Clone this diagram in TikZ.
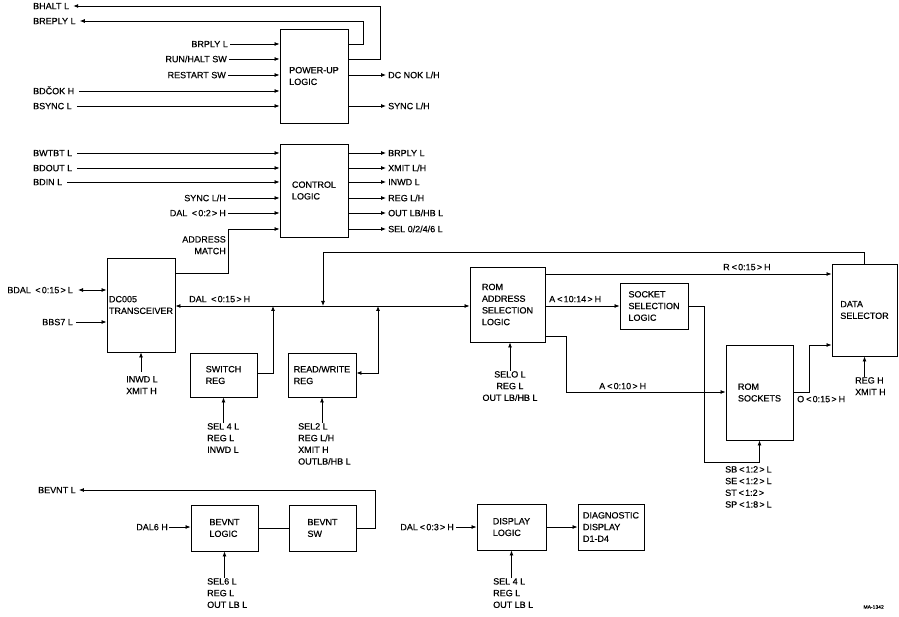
\documentclass[tikz,border=0pt]{standalone}
\usepackage{fontspec}
\setmainfont{Liberation Sans}
\newfontfamily\dfont{Liberation Sans}[FakeBold=0.4]
\newcommand\LA{\kern2pt<\kern1.2pt}
\newcommand\RA{\kern1.2pt>\kern2pt}
\usetikzlibrary{arrows.meta}
\begin{document}
\begin{tikzpicture}[x=1pt,y=-1pt,
 every node/.style={font=\dfont\fontsize{9}{11.7}\selectfont},
 box/.style={draw,line width=0.9pt,inner sep=0pt,align=left},
 lab/.style={inner sep=0pt,text height=6.4pt,text depth=0pt},
 mlab/.style={inner sep=0pt,align=left},
 ln/.style={line width=0.8pt},
 arr/.style={ln,-{Latex[length=5pt,width=4pt]}},
 darr/.style={ln,{Latex[length=5pt,width=4pt]}-{Latex[length=5pt,width=4pt]}}]
\useasboundingbox (0,0) rectangle (899,617);
\fill[white] (0,0) rectangle (899,617);

% boxes
\node[box,minimum width=68pt,minimum height=94pt] (pu) at (314,76) {POWER-UP\\LOGIC};
\node[box,minimum width=68pt,minimum height=93pt] (cl) at (314,190.5) {CONTROL\\LOGIC};
\node[box,minimum width=68pt,minimum height=94pt] (dc) at (141,305) {DC005\\TRANSCEIVER};
\node[box,minimum width=67pt,minimum height=44pt] (sw) at (223.5,375) {SWITCH\\REG};
\node[box,minimum width=68pt,minimum height=44pt] (rw) at (322,375) {READ/WRITE\\REG};
\node[box,minimum width=75pt,minimum height=75pt] (ra) at (507.5,304.5) {ROM\\ADDRESS\\SELECTION\\LOGIC};
\node[box,minimum width=68pt,minimum height=46pt] (ss) at (654,306) {SOCKET\\SELECTION\\LOGIC};
\node[box,minimum width=67pt,minimum height=95pt] (rs) at (759.5,392.5) {ROM\\SOCKETS};
\node[box,minimum width=65pt,minimum height=92pt] (ds) at (864.5,310) {DATA\\SELECTOR};
\node[box,minimum width=67pt,minimum height=46pt] (bl) at (224.5,528) {BEVNT\\LOGIC};
\node[box,minimum width=67pt,minimum height=46pt] (bs) at (322.5,528) {BEVNT\\SW};
\node[box,minimum width=69pt,minimum height=46pt] (dl) at (511.5,527) {DISPLAY\\LOGIC};
\node[box,minimum width=66pt,minimum height=46pt] (dd) at (611,527) {DIAGNOSTIC\\DISPLAY\\D1-D4};

% power-up logic
\node[lab,anchor=west] (bh) at (33,6) {BHALT L};
\node[lab,anchor=west] (br) at (33,21) {BREPLY L};
\draw[arr] (pu.east |- 0,59) -- (380,59) -- (380,6) -- ([xshift=4pt]bh.east);
\draw[arr] (pu.east |- 0,44) -- (363,44) -- (363,21) -- ([xshift=4pt]br.east);
\node[lab,anchor=east] (pi1) at (228,44) {BRPLY L};
\node[lab,anchor=east] (pi2) at (227,59) {RUN/HALT SW};
\node[lab,anchor=east] (pi3) at (226,75) {RESTART SW};
\node[lab,anchor=west] (pi4) at (33,91) {BDČOK H};
\node[lab,anchor=west] (pi5) at (33,106) {BSYNC L};
\foreach \n in {pi1,pi2,pi3} \draw[arr] ([xshift=2pt]\n.east) -- (\n.east -| pu.west);
\foreach \n in {pi4,pi5} \draw[arr] ([xshift=5pt]\n.east) -- (\n.east -| pu.west);
\node[lab,anchor=west] (po1) at (388,75) {DC NOK L/H};
\node[lab,anchor=west] (po2) at (388,106) {SYNC L/H};
\foreach \n in {po1,po2} \draw[arr] (\n.west -| pu.east) -- ([xshift=-2pt]\n.west);

% control logic
\node[lab,anchor=west] (ci1) at (33,153) {BWTBT L};
\node[lab,anchor=west] (ci2) at (33,168) {BDOUT L};
\node[lab,anchor=west] (ci3) at (33,182) {BDIN L};
\foreach \n in {ci1,ci2,ci3} \draw[arr] ([xshift=5pt]\n.east) -- (\n.east -| cl.west);
\node[lab,anchor=east] (ci4) at (226,198) {SYNC L/H};
\node[lab,anchor=east] (ci5) at (226,213) {DAL \LA0:2\RA H};
\foreach \n in {ci4,ci5} \draw[arr] ([xshift=2pt]\n.east) -- (\n.east -| cl.west);
\node[mlab,align=right,anchor=north east] (am) at (226,236) {ADDRESS\\MATCH};
\draw[arr] (dc.east |- 0,273) -- (228,273) -- (228,229) -- (cl.west |- 0,229);
\node[lab,anchor=west] (co1) at (388,153) {BRPLY L};
\node[lab,anchor=west] (co2) at (388,168) {XMIT L/H};
\node[lab,anchor=west] (co3) at (388,182) {INWD L};
\node[lab,anchor=west] (co4) at (388,198) {REG L/H};
\node[lab,anchor=west] (co5) at (388,213) {OUT LB/HB L};
\node[lab,anchor=west] (co6) at (388,229) {SEL 0/2/4/6 L};
\foreach \n in {co1,co2,co3,co4,co5,co6} \draw[arr] (\n.west -| cl.east) -- ([xshift=-2pt]\n.west);

% DC005 transceiver
\node[lab,anchor=east] (bdal) at (73,290) {BDAL \LA0:15\RA L};
\draw[darr] ([xshift=5pt]bdal.east) -- (bdal.east -| dc.west);
\node[lab,anchor=east] (bbs) at (73,322) {BBS7 L};
\draw[arr] ([xshift=3pt]bbs.east) -- (bbs.east -| dc.west);
\node[mlab,anchor=north] (dcb) at (142,376) {INWD L\\XMIT H};
\coordinate (dca) at (dc.south |- dcb.north);
\draw[arr] ([yshift=4pt]dca) -- (dc.south);

% DAL bus
\draw[darr] (dc.east |- 0,306) -- (ra.west |- 0,306);
\node[lab,anchor=west] (dalh) at (189,299) {DAL \LA0:15\RA H};
\draw[arr] (sw.east |- 0,373) -- (273,373) -- (273,306);
\draw[darr] (rw.east |- 0,373) -- (378,373) -- (378,306);
\draw[arr] (ds.north) -- (ds.north |- 0,252) -- (323,252) -- (323,306);

% register labels
\node[mlab,anchor=north west] (swb) at (207,423) {SEL 4 L\\REG L\\INWD L};
\draw[arr] (sw.south |- swb.north) -- (sw.south);
\node[mlab,anchor=north west] (rwb) at (298,423) {SEL2 L\\REG L/H\\XMIT H\\OUTLB/HB L};
\draw[arr] (rw.south |- rwb.north) -- (rw.south);

% ROM address selection
\node[mlab,align=center,anchor=north] (rab) at (510,371) {SELO L\\REG L\\OUT LB/HB L};
\draw[arr] (rab.north) -- (rab.north |- ra.south);
\node[lab,anchor=west] (rlab) at (723,267) {R\LA0:15\RA H};
\draw[arr] (ra.east |- 0,274) -- (ds.west |- 0,274);
\node[lab,anchor=west] (alab) at (549,299) {A\LA10:14\RA H};
\draw[arr] (ra.east |- 0,306) -- (ss.west |- 0,306);
\node[lab,anchor=west] (a2lab) at (599,386) {A\LA0:10\RA H};
\draw[arr] (ra.east |- 0,336) -- (566,336) -- (566,392) -- (rs.west |- 0,392);
\node[lab,anchor=west] (olab) at (797,399) {O\LA0:15\RA H};
\draw[arr] (rs.east |- 0,392) -- (809,392) -- (809,345) -- (ds.west |- 0,345);
\draw[arr] (ss.east |- 0,306) -- (704,306) -- (704,462) -- (rs.south |- 0,462) -- (rs.south);
\node[mlab,anchor=north west] (rsb) at (725,466) {SB\LA1:2\RA L\\SE\LA1:2\RA L\\ST\LA1:2\RA\\SP\LA1:8\RA L};
\node[mlab,anchor=north west] (dsb) at (855,377) {REG H\\XMIT H};
\draw[arr] (ds.south |- dsb.north) -- (ds.south);

% BEVNT
\node[lab,anchor=west] (bev) at (38,490) {BEVNT L};
\draw[arr] (bs.east) -- (bs.east -| 375,0) -- (375,490) -- ([xshift=3pt]bev.east);
\draw[ln] (bl.east) -- (bs.west);
\node[lab,anchor=east] (d6) at (168,527) {DAL6 H};
\draw[arr] ([xshift=1pt]d6.east) -- (d6.east -| bl.west);
\node[mlab,anchor=north west] (blb) at (207,578) {SEL6 L\\REG L\\OUT LB L};
\draw[arr] (bl.south |- blb.north) -- (bl.south);

% display
\node[lab,anchor=east] (d03) at (454,527) {DAL\LA0:3\RA H};
\draw[arr] ([xshift=2pt]d03.east) -- (d03.east -| dl.west);
\draw[arr] (dl.east |- 0,527) -- (dd.west |- 0,527);
\node[mlab,anchor=north west] (dlb) at (493,578) {SEL 4 L\\REG L\\OUT LB L};
\draw[arr] (dl.south |- dlb.north) -- (dl.south);

\node[font=\dfont\fontsize{5}{6}\selectfont,inner sep=0pt,anchor=east] (ma) at (884,607) {MA-1342};
\end{tikzpicture}
\end{document}
